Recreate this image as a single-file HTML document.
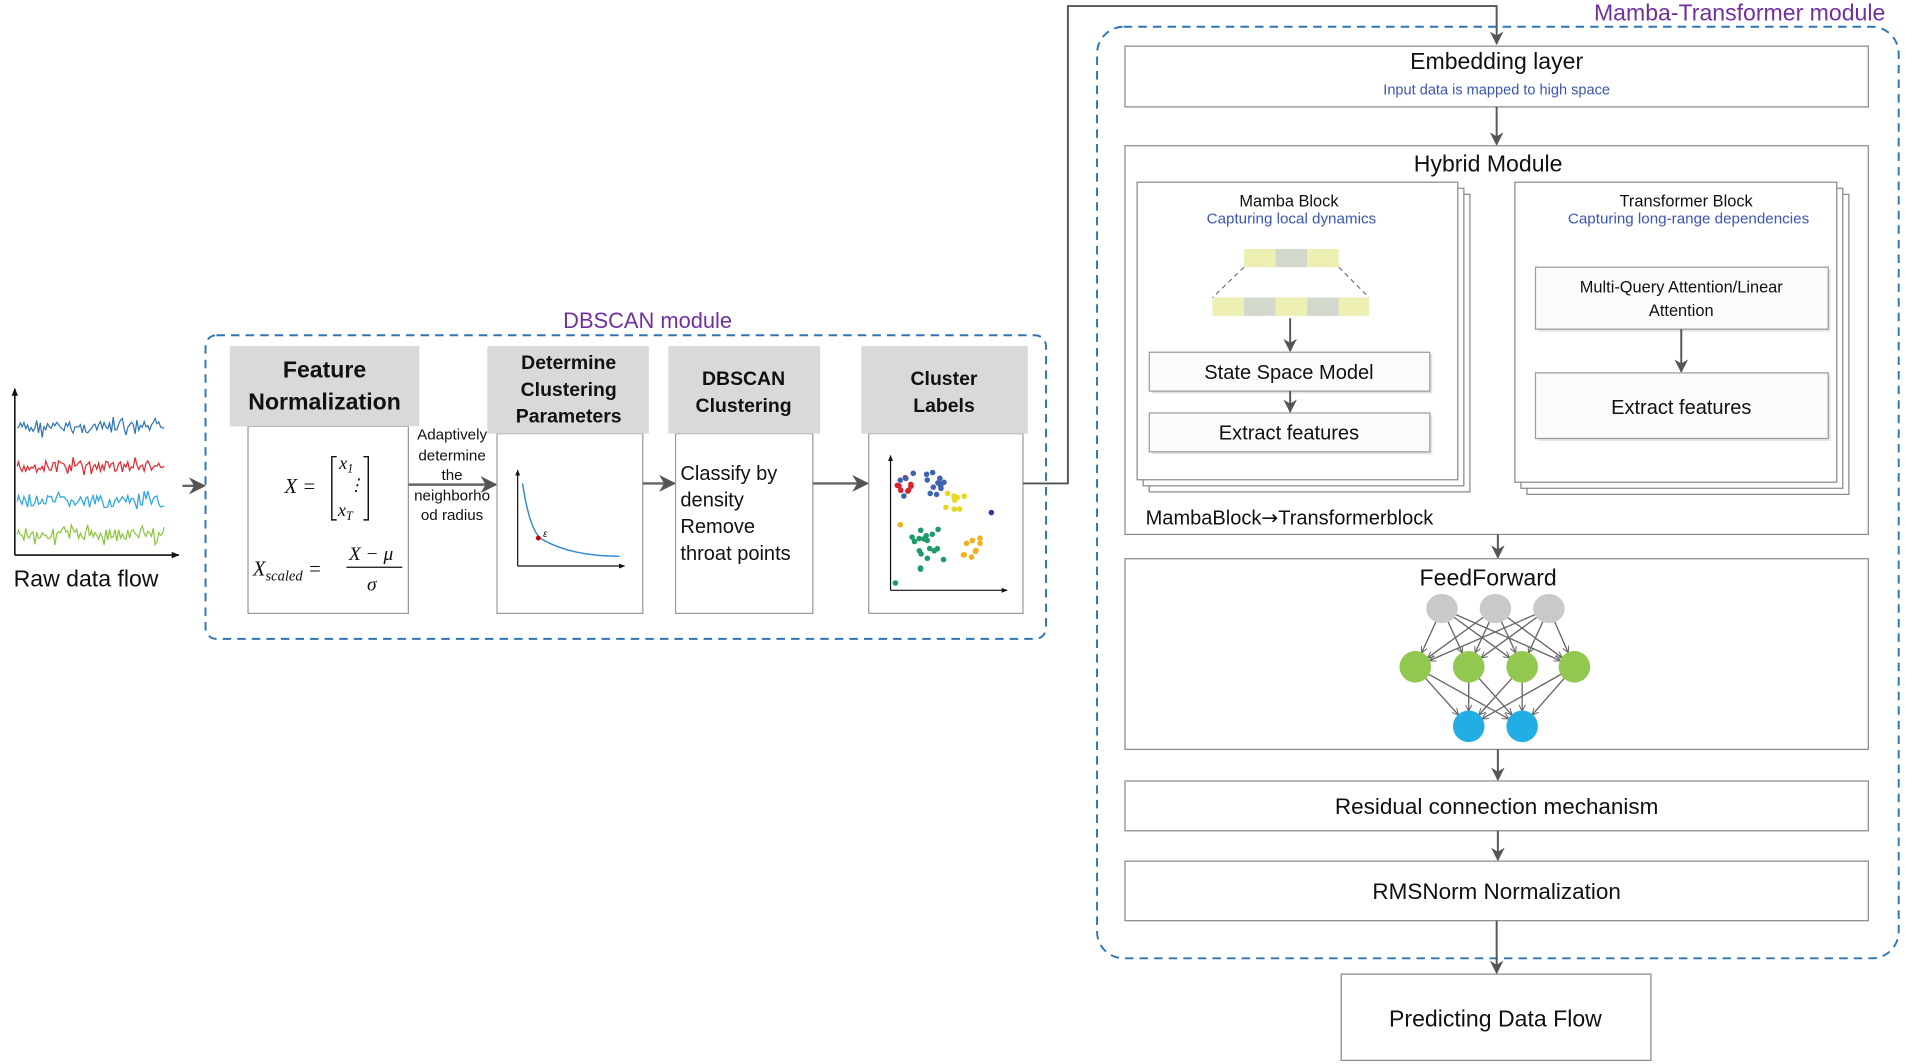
<!DOCTYPE html>
<html><head><meta charset="utf-8"><style>
html,body{margin:0;padding:0;background:#fff;}
svg{display:block;}
text{font-family:"Liberation Sans",sans-serif;fill:#111;}
.b{font-weight:bold;}
.bl{fill:#3b55b5;}
.pu{fill:#7030a0;}
</style></head><body>
<svg id="s" width="1905" height="1064" viewBox="0 0 1568 876" xmlns="http://www.w3.org/2000/svg">
<defs>
<marker id="a" viewBox="0 0 10 10" refX="9" refY="5" markerWidth="7" markerHeight="7" orient="auto-start-reverse"><path d="M0,0 L10,5 L0,10 L3,5 z" fill="#555"/></marker>
<marker id="s2" viewBox="0 0 10 10" refX="9" refY="5" markerWidth="5" markerHeight="5" orient="auto"><path d="M0,0 L10,5 L0,10" fill="none" stroke="#666" stroke-width="1.5"/></marker>
<marker id="k" viewBox="0 0 10 10" refX="9" refY="5" markerWidth="5" markerHeight="5" orient="auto"><path d="M0,1 L10,5 L0,9 z" fill="#111"/></marker>
</defs>

<line x1="12" y1="457" x2="12" y2="320" stroke="#111" stroke-width="1.3" marker-end="url(#k)"/>
<line x1="12" y1="457" x2="147" y2="457" stroke="#111" stroke-width="1.3" marker-end="url(#k)"/>
<g id="waves"></g>
<text x="11" y="483" font-size="19">Raw data flow</text>
<line x1="150" y1="400" x2="168" y2="400" stroke="#666" stroke-width="2" marker-end="url(#a)"/>

<rect x="169" y="276" width="692" height="250" rx="9" fill="none" stroke="#2e75b6" stroke-width="1.6" stroke-dasharray="7,5"/>
<text x="533" y="270" font-size="18" text-anchor="middle" class="pu">DBSCAN module</text>

<rect x="204" y="351" width="132" height="154" fill="#fff" stroke="#999"/>
<rect x="189" y="285" width="156" height="66" fill="#d9d9d9"/>
<text x="267" y="311" font-size="19" class="b" text-anchor="middle">Feature</text>
<text x="267" y="337" font-size="19" class="b" text-anchor="middle">Normalization</text>
<g font-style="italic">
<text x="234" y="406" font-size="17" style="font-family:'Liberation Serif',serif">X =</text>
<path d="M277,376 h-4 v52 h4 M299,376 h4 v52 h-4" fill="none" stroke="#111" stroke-width="1.2"/>
<text x="279" y="386" font-size="15" style="font-family:'Liberation Serif',serif">x<tspan font-size="10" dy="3">1</tspan></text>
<text x="286" y="404" font-size="14" style="font-family:'Liberation Serif',serif">⋮</text>
<text x="278" y="425" font-size="15" style="font-family:'Liberation Serif',serif">x<tspan font-size="10" dy="3">T</tspan></text>
<text x="208" y="474" font-size="17" style="font-family:'Liberation Serif',serif">X<tspan font-size="12" dy="4">scaled</tspan><tspan dy="-4"> =</tspan></text>
<text x="287" y="461" font-size="16" style="font-family:'Liberation Serif',serif">X − μ</text>
<line x1="285" y1="467" x2="331" y2="467" stroke="#111"/>
<text x="302" y="486" font-size="16" style="font-family:'Liberation Serif',serif">σ</text>
</g>

<line x1="336" y1="399" x2="408" y2="399" stroke="#666" stroke-width="2" marker-end="url(#a)"/>
<g font-size="12.5" text-anchor="middle">
<text x="372" y="362">Adaptively</text><text x="372" y="379">determine</text><text x="372" y="395">the</text><text x="372" y="412">neighborho</text><text x="372" y="428">od radius</text>
</g>

<rect x="409" y="357" width="120" height="148" fill="#fff" stroke="#999"/>
<rect x="401" y="285" width="133" height="72" fill="#d9d9d9"/>
<g font-size="16" text-anchor="middle"><text x="468" y="304" class="b">Determine</text><text x="468" y="326" class="b">Clustering</text><text x="468" y="348" class="b">Parameters</text></g>
<line x1="426" y1="466" x2="426" y2="387" stroke="#111" marker-end="url(#k)"/>
<line x1="426" y1="466" x2="514" y2="466" stroke="#111" marker-end="url(#k)"/>
<path d="M430,398 Q436,438 446,444 Q470,458 510,458" fill="none" stroke="#2e8bd6" stroke-width="1.2"/>
<circle cx="443" cy="443" r="2" fill="#c00"/><text x="447" y="442" font-size="8" font-style="italic">ε</text>

<line x1="529" y1="398" x2="555" y2="398" stroke="#666" stroke-width="2" marker-end="url(#a)"/>
<rect x="556" y="357" width="113" height="148" fill="#fff" stroke="#999"/>
<rect x="550" y="285" width="125" height="72" fill="#d9d9d9"/>
<g font-size="16" text-anchor="middle"><text x="612" y="317" class="b">DBSCAN</text><text x="612" y="339" class="b">Clustering</text></g>
<g font-size="16.5"><text x="560" y="395">Classify by</text><text x="560" y="417">density</text><text x="560" y="439">Remove</text><text x="560" y="461">throat points</text></g>

<line x1="669" y1="398" x2="714" y2="398" stroke="#666" stroke-width="2" marker-end="url(#a)"/>
<rect x="715" y="357" width="127" height="148" fill="#fff" stroke="#999"/>
<rect x="709" y="285" width="137" height="72" fill="#d9d9d9"/>
<g font-size="16" text-anchor="middle"><text x="777" y="317" class="b">Cluster</text><text x="777" y="339" class="b">Labels</text></g>
<line x1="733" y1="486" x2="733" y2="375" stroke="#111" marker-end="url(#k)"/>
<line x1="733" y1="486" x2="829" y2="486" stroke="#111" marker-end="url(#k)"/>
<g id="scat"></g>

<polyline points="842,398 879,398 879,5 1232,5 1232,36" fill="none" stroke="#555" stroke-width="1.6" marker-end="url(#a)"/>

<rect x="903" y="22" width="660" height="767" rx="22" fill="none" stroke="#2e75b6" stroke-width="1.6" stroke-dasharray="7,5"/>
<rect x="1265" y="0" width="292" height="21" fill="#fff"/>
<text x="1552" y="17" font-size="19" text-anchor="end" class="pu">Mamba-Transformer module</text>

<rect x="926" y="38" width="612" height="50" fill="#fff" stroke="#888"/>
<text x="1232" y="57" font-size="19" text-anchor="middle">Embedding layer</text>
<text x="1232" y="78" font-size="12" text-anchor="middle" class="bl">Input data is mapped to high space</text>
<line x1="1232" y1="88" x2="1232" y2="119" stroke="#555" stroke-width="1.6" marker-end="url(#a)"/>

<rect x="926" y="120" width="612" height="320" fill="#fff" stroke="#888"/>
<text x="1225" y="141" font-size="19" text-anchor="middle">Hybrid Module</text>

<rect x="946" y="160" width="264" height="245" fill="#fff" stroke="#888"/>
<rect x="941" y="155" width="264" height="245" fill="#fff" stroke="#888"/>
<rect x="936" y="150" width="264" height="245" fill="#fff" stroke="#888"/>
<text x="1061" y="170" font-size="13.5" text-anchor="middle">Mamba Block</text>
<text x="1063" y="184" font-size="12.5" text-anchor="middle" class="bl">Capturing local dynamics</text>
<rect x="1024" y="205" width="26" height="15" fill="#eef0b2"/><rect x="1050" y="205" width="26" height="15" fill="#d2d9cc"/><rect x="1076" y="205" width="26" height="15" fill="#eef0b2"/>
<rect x="998" y="245" width="26" height="15" fill="#eef0b2"/><rect x="1024" y="245" width="26" height="15" fill="#d2d9cc"/><rect x="1050" y="245" width="26" height="15" fill="#eef0b2"/><rect x="1076" y="245" width="26" height="15" fill="#d2d9cc"/><rect x="1102" y="245" width="25" height="15" fill="#eef0b2"/>
<line x1="1024" y1="220" x2="998" y2="245" stroke="#777" stroke-dasharray="4,3"/>
<line x1="1102" y1="220" x2="1127" y2="245" stroke="#777" stroke-dasharray="4,3"/>
<line x1="1062" y1="262" x2="1062" y2="289" stroke="#555" stroke-width="1.6" marker-end="url(#a)"/>
<rect x="948" y="292" width="231" height="32" fill="#e4e4e4"/>
<rect x="946" y="290" width="231" height="32" fill="#fbfbfb" stroke="#999"/>
<text x="1061" y="312" font-size="16.5" text-anchor="middle">State Space Model</text>
<line x1="1062" y1="322" x2="1062" y2="339" stroke="#555" stroke-width="1.6" marker-end="url(#a)"/>
<rect x="948" y="342" width="231" height="32" fill="#e4e4e4"/>
<rect x="946" y="340" width="231" height="32" fill="#fbfbfb" stroke="#999"/>
<text x="1061" y="362" font-size="16.5" text-anchor="middle">Extract features</text>

<rect x="1257" y="160" width="265" height="247" fill="#fff" stroke="#888"/>
<rect x="1252" y="155" width="265" height="247" fill="#fff" stroke="#888"/>
<rect x="1247" y="150" width="265" height="247" fill="#fff" stroke="#888"/>
<text x="1388" y="170" font-size="13.5" text-anchor="middle">Transformer Block</text>
<text x="1390" y="184" font-size="12.5" text-anchor="middle" class="bl">Capturing long-range dependencies</text>
<rect x="1266" y="222" width="241" height="51" fill="#e4e4e4"/>
<rect x="1264" y="220" width="241" height="51" fill="#fbfbfb" stroke="#999"/>
<text x="1384" y="241" font-size="13.5" text-anchor="middle">Multi-Query Attention/Linear</text>
<text x="1384" y="260" font-size="13.5" text-anchor="middle">Attention</text>
<line x1="1384" y1="271" x2="1384" y2="306" stroke="#555" stroke-width="1.6" marker-end="url(#a)"/>
<rect x="1266" y="309" width="241" height="54" fill="#e4e4e4"/>
<rect x="1264" y="307" width="241" height="54" fill="#fbfbfb" stroke="#999"/>
<text x="1384" y="341" font-size="16.5" text-anchor="middle">Extract features</text>

<text x="943" y="432" font-size="16.5">MambaBlock<tspan font-family="DejaVu Sans">→</tspan>Transformerblock</text>
<line x1="1233" y1="440" x2="1233" y2="459" stroke="#555" stroke-width="1.6" marker-end="url(#a)"/>

<rect x="926" y="460" width="612" height="157" fill="#fff" stroke="#888"/>
<text x="1225" y="482" font-size="19" text-anchor="middle">FeedForward</text>
<g id="nn"></g>
<line x1="1233" y1="617" x2="1233" y2="642" stroke="#555" stroke-width="1.6" marker-end="url(#a)"/>
<rect x="926" y="643" width="612" height="41" fill="#fff" stroke="#888"/>
<text x="1232" y="670" font-size="18.5" text-anchor="middle">Residual connection mechanism</text>
<line x1="1233" y1="684" x2="1233" y2="708" stroke="#555" stroke-width="1.6" marker-end="url(#a)"/>
<rect x="926" y="709" width="612" height="49" fill="#fff" stroke="#888"/>
<text x="1232" y="740" font-size="18.5" text-anchor="middle">RMSNorm Normalization</text>
<line x1="1232" y1="758" x2="1232" y2="801" stroke="#555" stroke-width="1.6" marker-end="url(#a)"/>
<rect x="1104" y="802" width="255" height="71" fill="#fff" stroke="#888"/>
<text x="1231" y="845" font-size="19" text-anchor="middle">Predicting Data Flow</text>
</svg>
<script>
var NS="http://www.w3.org/2000/svg";
function el(p,t,a){var e=document.createElementNS(NS,t);for(var k in a)e.setAttribute(k,a[k]);p.appendChild(e);return e;}
var seed=7;function r(){seed=(seed*9301+49297)%233280;return seed/233280;}
var W=document.getElementById("waves");
[[352,"#2e75b6"],[384,"#e8242c"],[413,"#2aa6e0"],[440,"#8cc63f"]].forEach(function(c){
 var d="M14,"+c[0];for(var x=15;x<=135;x+=1.5){d+=" L"+x+","+(c[0]+(r()-0.5)*(r()<0.2?18:10)).toFixed(1);}
 el(W,"path",{d:d,fill:"none",stroke:c[1],"stroke-width":1});
});
var S=document.getElementById("scat");
function cl(cx,cy,sx,sy,n,col){for(var i=0;i<n;i++)el(S,"circle",{cx:cx+(r()-0.5)*sx,cy:cy+(r()-0.5)*sy,r:2.3,fill:col});}
cl(745,395,16,20,8,"#d9232d");cl(760,400,40,30,16,"#3f63b0");cl(786,413,16,14,8,"#e8d820");cl(764,452,28,34,18,"#1d9b6a");cl(800,450,16,18,9,"#f0b020");
el(S,"circle",{cx:816,cy:422,r:2.3,fill:"#2b3f9a"});el(S,"circle",{cx:741,cy:432,r:2.3,fill:"#f0b020"});el(S,"circle",{cx:737,cy:480,r:2.3,fill:"#1d9b6a"});
var N=document.getElementById("nn");
var g=[[1187,501],[1231,501],[1275,501]],gr=[[1165,549],[1209,549],[1253,549],[1296,549]],b=[[1209,598],[1253,598]];
function link(A,B){A.forEach(function(p){B.forEach(function(q){var dx=q[0]-p[0],dy=q[1]-p[1],L=Math.sqrt(dx*dx+dy*dy);
 el(N,"line",{x1:p[0]+dx/L*11,y1:p[1]+dy/L*11,x2:q[0]-dx/L*13,y2:q[1]-dy/L*13,stroke:"#666","stroke-width":1.1,"marker-end":"url(#s2)"});});});}
link(g,gr);link(gr,b);
g.forEach(function(p){el(N,"ellipse",{cx:p[0],cy:p[1],rx:13,ry:12,fill:"#c8c9cb"});});
gr.forEach(function(p){el(N,"ellipse",{cx:p[0],cy:p[1],rx:13,ry:13,fill:"#92c850"});});
b.forEach(function(p){el(N,"ellipse",{cx:p[0],cy:p[1],rx:13,ry:13,fill:"#22aee4"});});
</script>
</body></html>
